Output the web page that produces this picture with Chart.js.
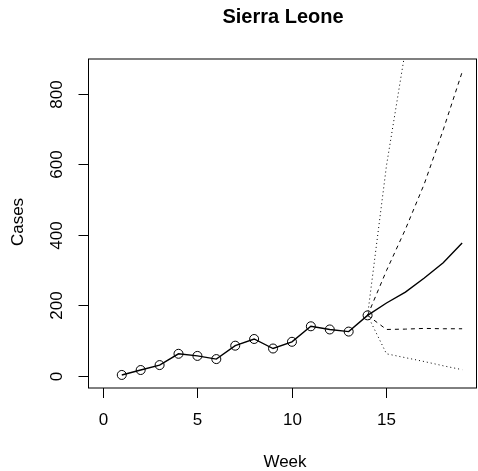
<!DOCTYPE html>
<html>
<head>
<meta charset="utf-8">
<script src="https://cdn.jsdelivr.net/npm/chart.js@4"></script>
<style>
  html, body { margin: 0; padding: 0; background: #fff; overflow: hidden; }
  canvas { display: block; }
</style>
</head>
<body>
<canvas id="forecastChart" width="482" height="471"></canvas>
<script>
// observed weekly cases
const weeks = [1, 2, 3, 4, 5, 6, 7, 8, 9, 10, 11, 12, 13, 14];
const cases = [3, 17, 31, 63, 57, 48, 86, 105, 78, 97, 141, 132, 126, 172];

// projections from week 14 on
const forecastWeeks = [14, 15, 16, 17, 18, 19];
const median = [172, 207, 238, 278, 321, 377];
const upper50 = [172, 299, 416, 545, 698, 862];
const lower50 = [172, 132, 133, 135, 134, 134];
const upper95 = [172, 597, 925, 1300, 1750, 2300];
const lower95 = [172, 63, 52, 41, 29, 18];

const xTicks = [0, 5, 10, 15];
const yTicks = [0, 200, 400, 600, 800];

const FONT = "Liberation Sans, Arial, Helvetica, sans-serif";

const toPoints = (xs, ys) => xs.map((x, i) => ({ x: x, y: ys[i] }));

// R-style frame, ticks and titles
const rAxes = {
  id: "rAxes",
  beforeDraw(chart) {
    const ctx = chart.ctx;
    ctx.save();
    ctx.fillStyle = "#fff";
    ctx.fillRect(0, 0, chart.width, chart.height);
    ctx.restore();
  },
  afterDraw(chart) {
    const ctx = chart.ctx;
    const area = chart.chartArea;
    const xs = chart.scales.x;
    const ys = chart.scales.y;
    ctx.save();
    ctx.strokeStyle = "#000";
    ctx.fillStyle = "#000";
    ctx.lineWidth = 1;
    ctx.strokeRect(area.left, area.top, area.right - area.left, area.bottom - area.top);

    ctx.font = "17px " + FONT;
    ctx.textAlign = "center";
    ctx.textBaseline = "middle";
    xTicks.forEach((v) => {
      const px = Math.round(xs.getPixelForValue(v)) + 0.5;
      ctx.beginPath();
      ctx.moveTo(px, area.bottom);
      ctx.lineTo(px, area.bottom + 10);
      ctx.stroke();
      ctx.fillText(String(v), px, 420);
    });
    yTicks.forEach((v) => {
      const py = Math.round(ys.getPixelForValue(v)) + 0.5;
      ctx.beginPath();
      ctx.moveTo(area.left, py);
      ctx.lineTo(area.left - 10, py);
      ctx.stroke();
      ctx.save();
      ctx.translate(57, py);
      ctx.rotate(-Math.PI / 2);
      ctx.fillText(String(v), 0, 0);
      ctx.restore();
    });

    ctx.fillText("Week", 285, 462);
    ctx.save();
    ctx.translate(18, 222);
    ctx.rotate(-Math.PI / 2);
    ctx.fillText("Cases", 0, 0);
    ctx.restore();

    ctx.font = "bold 20px " + FONT;
    ctx.fillText("Sierra Leone", 283, 17);
    ctx.restore();
  },
};

const lineSet = (data, dash, width) => ({
  data: data,
  borderColor: "#000",
  borderWidth: width,
  borderDash: dash,
  pointRadius: 0,
  fill: false,
  tension: 0,
  clip: 0,
});

new Chart(document.getElementById("forecastChart").getContext("2d"), {
  type: "line",
  data: {
    datasets: [
      lineSet(toPoints(forecastWeeks, upper95), [1, 3], 1),
      lineSet(toPoints(forecastWeeks, lower95), [1, 3], 1),
      lineSet(toPoints(forecastWeeks, upper50), [4, 4], 1),
      lineSet(toPoints(forecastWeeks, lower50), [4, 4], 1),
      lineSet(toPoints(forecastWeeks, median), [], 1.4),
      {
        data: toPoints(weeks, cases),
        borderColor: "#000",
        borderWidth: 1.4,
        pointRadius: 4.5,
        pointBorderWidth: 1,
        pointBorderColor: "#000",
        pointBackgroundColor: "rgba(0,0,0,0)",
        fill: false,
        tension: 0,
      },
    ],
  },
  options: {
    responsive: false,
    animation: false,
    layout: { padding: { left: 88.5, top: 59, right: 0, bottom: 83 } },
    scales: {
      x: { type: "linear", min: -0.76, max: 19.76, display: false },
      y: { type: "linear", min: -34, max: 899, display: false },
    },
    plugins: {
      legend: { display: false },
      tooltip: { enabled: false },
      title: { display: false },
    },
  },
  plugins: [rAxes],
});
</script>
</body>
</html>
